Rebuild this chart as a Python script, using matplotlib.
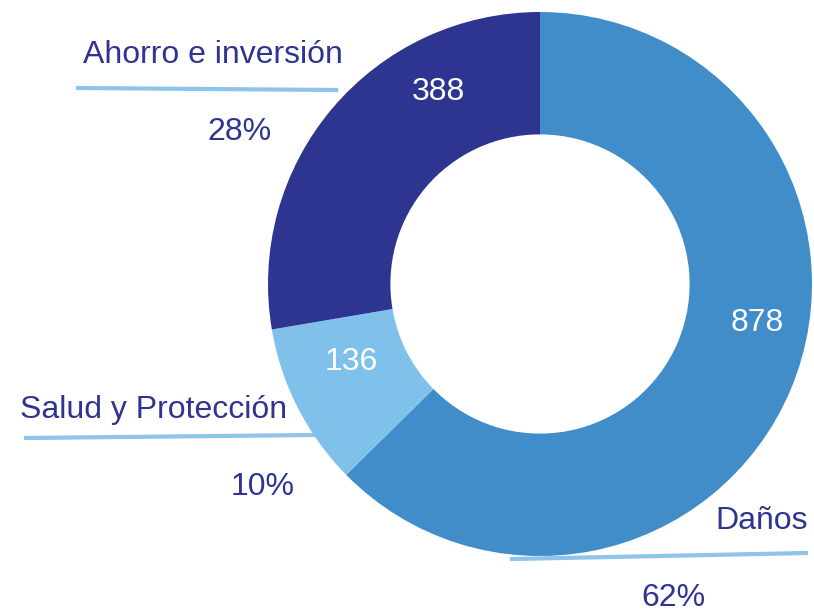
import matplotlib
matplotlib.use("Agg")
import matplotlib.pyplot as plt
from matplotlib.lines import Line2D

# ─── Data ──────────────────────────────────────────────────────────────
categories = ["Daños", "Salud y Protección", "Ahorro e inversión"]
values = [878, 136, 388]
percents = ["62%", "10%", "28%"]

COLORS = ["#418DCA", "#7FC1EA", "#2E3590"]
TEXT_COLOR = "#2E3590"
LINE_COLOR = "#8EC3EA"
FONT = "Liberation Sans"
FS = 23

W, H = 814, 614
fig = plt.figure(figsize=(W / 100, H / 100), dpi=100)


def px(x, y):
    """Pixel position (top-left origin) -> figure fraction."""
    return x / W, 1 - y / H


# ring: center (540, 284), outer radius 272 px
cx, cy, r = 540, 284, 272
ax = fig.add_axes([(cx - r) / W, 1 - (cy + r) / H, 2 * r / W, 2 * r / H])
ax.pie(values, colors=COLORS, startangle=90, counterclock=False,
       wedgeprops={"width": 0.45, "edgecolor": "none"})
ax.set_xlim(-1, 1)
ax.set_ylim(-1, 1)
ax.set_aspect("equal")
ax.axis("off")

# values inside the ring
value_pos = [(757, 323), (351, 362), (438, 92)]
for v, (x, y) in zip(values, value_pos):
    fig.text(*px(x, y), str(v), color="white", fontsize=FS, family=FONT,
             ha="center", va="center")

# category names, underline and percentage
name_pos = [(808, 521, "right"), (20, 410, "left"), (83, 55, "left")]
pct_pos = [(673, 598), (263, 487), (239, 132)]
lines = [((512, 559), (806, 553)), ((26, 438), (313, 435)), ((78, 88), (336, 90))]

for name, pct, (nx, ny, ha), (qx, qy), (p0, p1) in zip(categories, percents, name_pos, pct_pos, lines):
    fig.text(*px(nx, ny), name, color=TEXT_COLOR, fontsize=FS, family=FONT,
             ha=ha, va="center")
    fig.text(*px(qx, qy), pct, color=TEXT_COLOR, fontsize=FS, family=FONT,
             ha="center", va="center")
    (x0, y0), (x1, y1) = px(*p0), px(*p1)
    fig.add_artist(Line2D([x0, x1], [y0, y1], transform=fig.transFigure,
                          color=LINE_COLOR, linewidth=3))

fig.savefig("out.png", dpi=100)
